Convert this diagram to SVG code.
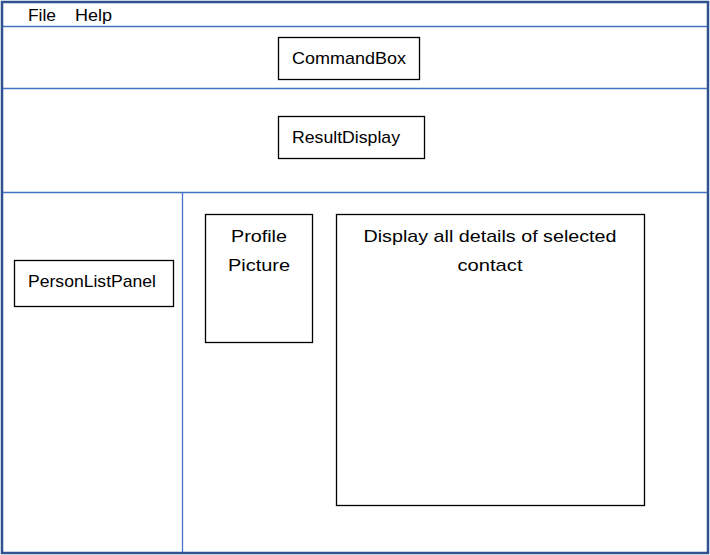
<svg xmlns="http://www.w3.org/2000/svg" width="710" height="555" viewBox="0 0 710 555">
<style>
text{font-family:"Liberation Sans",Arial,sans-serif;fill:#000;}
.t{font-size:17px;}
.m{font-size:16px;}
.box{fill:#fff;stroke:#000;stroke-width:1.3;}
.sep{stroke:#4472C4;stroke-width:1.3;fill:none;}
</style>
<rect x="0" y="0" width="710" height="555" fill="#fff"/>
<g id="frame">
<rect x="2" y="2" width="706" height="551" fill="none" stroke="#2F528F" stroke-width="2.5"/>
</g>
<g id="separators">
<line class="sep" x1="3" y1="26.5" x2="707" y2="26.5"/>
<line class="sep" x1="3" y1="88.5" x2="707" y2="88.5"/>
<line class="sep" x1="3" y1="192.5" x2="707" y2="192.5"/>
<line class="sep" x1="182.5" y1="193" x2="182.5" y2="552"/>
</g>
<g id="menu">
<text class="m" x="28" y="21" textLength="28" lengthAdjust="spacingAndGlyphs">File</text>
<text class="m" x="75" y="21" textLength="37" lengthAdjust="spacingAndGlyphs">Help</text>
</g>
<g id="commandbox">
<rect class="box" x="278.5" y="37.5" width="141" height="42"/>
<text class="t" x="292" y="64" textLength="114" lengthAdjust="spacingAndGlyphs">CommandBox</text>
</g>
<g id="resultdisplay">
<rect class="box" x="278.5" y="116.5" width="146" height="42"/>
<text class="t" x="292" y="143" textLength="108" lengthAdjust="spacingAndGlyphs">ResultDisplay</text>
</g>
<g id="personlistpanel">
<rect class="box" x="14.5" y="260.5" width="159" height="46"/>
<text class="t" x="28" y="287" textLength="128" lengthAdjust="spacingAndGlyphs">PersonListPanel</text>
</g>
<g id="profilepicture">
<rect class="box" x="205.5" y="214.5" width="107" height="128"/>
<text class="t" x="259" y="242" text-anchor="middle" font-size="19" textLength="56" lengthAdjust="spacingAndGlyphs">Profile</text>
<text class="t" x="259" y="271" text-anchor="middle" font-size="19" textLength="62" lengthAdjust="spacingAndGlyphs">Picture</text>
</g>
<g id="details">
<rect class="box" x="336.5" y="214.5" width="308" height="291"/>
<text class="t" x="490" y="242" text-anchor="middle" font-size="19" textLength="253" lengthAdjust="spacingAndGlyphs">Display all details of selected</text>
<text class="t" x="490" y="271" text-anchor="middle" font-size="19" textLength="65" lengthAdjust="spacingAndGlyphs">contact</text>
</g>
</svg>
